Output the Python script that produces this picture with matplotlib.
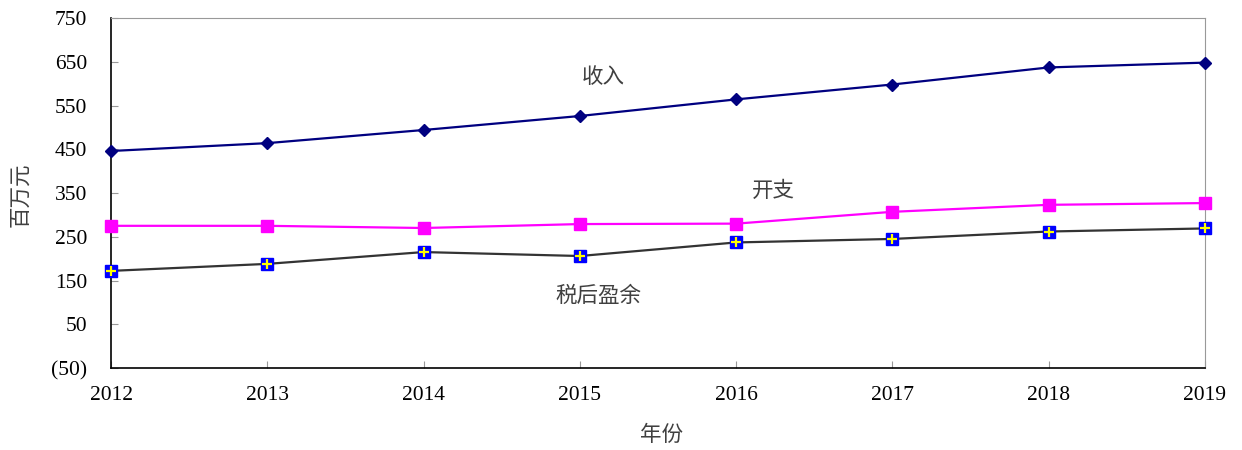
import matplotlib
matplotlib.use("Agg")
import matplotlib.pyplot as plt
from matplotlib.ticker import FuncFormatter

years = [2012, 2013, 2014, 2015, 2016, 2017, 2018, 2019]
revenue = [446, 464, 494, 526, 564, 598, 637, 648]
expense = [275, 275, 270, 279, 280, 307, 323, 327]
profit = [172, 188, 215, 206, 237, 245, 262, 269]
yticks = [-50, 50, 150, 250, 350, 450, 550, 650, 750]

cjk = ["Noto Sans CJK SC", "DejaVu Sans"]
num_font = "Liberation Serif"

fig = plt.figure(figsize=(12.42, 4.5), dpi=100)
ax = fig.add_axes([0.0894, 0.1822, 0.8808, 0.7778])

ax.plot(years, revenue, color="#000080", lw=1.6, marker="D", ms=6.5,
        mfc="#000080", mec="#000080", zorder=3, clip_on=False)
ax.plot(years, expense, color="#ff00ff", lw=1.6, marker="s", ms=8.5,
        mfc="#ff00ff", mec="#ff00ff", zorder=3, clip_on=False)
ax.plot(years, profit, color="#333333", lw=1.6, marker="s", ms=8,
        mfc="#0000ff", mec="#0000ff", zorder=3, clip_on=False)
ax.plot(years, profit, ls="none", marker="+", ms=7, mew=1.6,
        color="#ffff00", zorder=4, clip_on=False)

ax.set_xlim(2012, 2019)
ax.set_ylim(-50, 750)
ax.set_xticks(years)
ax.set_yticks(yticks)
ax.yaxis.set_major_formatter(FuncFormatter(
    lambda v, p: "(%d)" % abs(v) if v < 0 else "%d" % v))

ax.tick_params(direction="in", length=5, color="#999999", width=0.8,
               labelsize=15.5)
ax.tick_params(axis="y", pad=17)
ax.tick_params(axis="x", pad=13)
for lab in ax.get_xticklabels() + ax.get_yticklabels():
    lab.set_fontfamily(num_font)

ax.spines["left"].set_color("black")
ax.spines["bottom"].set_color("black")
ax.spines["left"].set_linewidth(1.2)
ax.spines["bottom"].set_linewidth(1.2)
ax.spines["top"].set_color("#999999")
ax.spines["right"].set_color("#999999")

ax.text(2015.15, 615, "收入", family=cjk, fontsize=15.5, color="#404040",
        ha="center", va="center")
ax.text(2016.24, 355, "开支", family=cjk, fontsize=15.5, color="#404040",
        ha="center", va="center")
ax.text(2015.12, 115, "税后盈余", family=cjk, fontsize=15.5, color="#404040",
        ha="center", va="center")

fig.text(0.016, 0.567, "百万元", family=cjk, fontsize=15.5, color="#404040",
         rotation=90, ha="center", va="center")
fig.text(0.533, 0.033, "年份", family=cjk, fontsize=15.5, color="#404040",
         ha="center", va="center")

fig.savefig("out.png", dpi=100)
